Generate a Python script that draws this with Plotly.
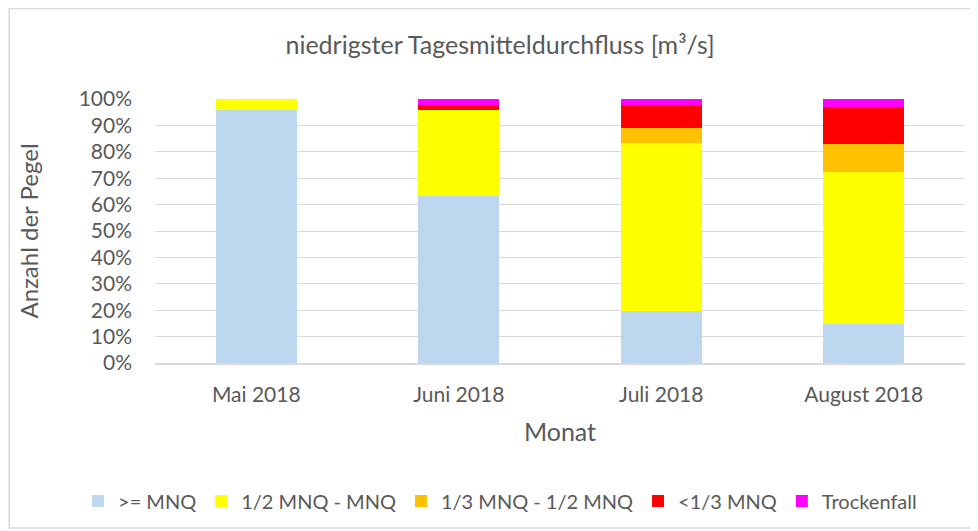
import plotly.graph_objects as go

# Monate und Anteile der Pegel je Klasse (in %)
monate = ["Mai 2018", "Juni 2018", "Juli 2018", "August 2018"]
ge_mnq = [96.0, 63.4, 19.8, 14.8]
halb_bis_mnq = [4.0, 32.4, 63.4, 57.4]
drittel_bis_halb = [0.0, 0.0, 5.8, 10.8]
unter_drittel = [0.0, 2.0, 8.8, 13.9]
trockenfall = [0.0, 2.2, 2.2, 3.1]

serien = [
    (">= MNQ", ge_mnq, "#BDD7EE"),
    ("1/2 MNQ - MNQ", halb_bis_mnq, "#FFFF00"),
    ("1/3 MNQ - 1/2 MNQ", drittel_bis_halb, "#FFC000"),
    ("<1/3 MNQ", unter_drittel, "#FF0000"),
    ("Trockenfall", trockenfall, "#FF00FF"),
]

FONT = "Lato, 'Noto Sans', sans-serif"
GREY = "#595959"

fig = go.Figure()
for name, werte, farbe in serien:
    fig.add_trace(go.Bar(
        x=monate, y=werte, name=name,
        marker=dict(color=farbe, line=dict(width=0)),
    ))

# page body has an 8px margin, so the figure is 8px smaller than the window
fig.update_layout(
    width=970, height=523,
    barmode="stack", bargap=0.6,
    plot_bgcolor="white", paper_bgcolor="white",
    margin=dict(l=147, r=13, t=91, b=168, autoexpand=False),
    font=dict(family=FONT, color=GREY, size=21),
    title=dict(
        text="niedrigster Tagesmitteldurchfluss [m³/s]",
        x=0.426, xref="paper", xanchor="center",
        y=1 - 37 / 523, yref="container", yanchor="middle",
        font=dict(size=25, color=GREY),
    ),
    # anchored left of the plot area so the legend may use the left margin too
    legend=dict(
        orientation="h", x=-0.095, xanchor="left",
        y=-0.523, yanchor="middle",
        font=dict(size=20, color=GREY),
        itemwidth=30, traceorder="normal",
    ),
    showlegend=True,
    shapes=[dict(
        type="rect", xref="paper", yref="paper",
        x0=-0.18, x1=1.0123, y0=-0.625, y1=1.343,
        line=dict(color="#D9D9D9", width=1.5),
    )],
)

fig.update_yaxes(
    range=[0, 100], dtick=10, ticksuffix="%",
    showgrid=True, gridcolor="#D9D9D9", gridwidth=1,
    zeroline=False, showline=False,
    ticks="", ticklabelstandoff=22,
    tickfont=dict(size=21, color=GREY),
    title=dict(text="Anzahl der Pegel", standoff=33,
               font=dict(size=24, color=GREY)),
)
fig.update_xaxes(
    showline=True, linecolor="#D9D9D9", linewidth=1.5,
    ticks="", ticklabelstandoff=12,
    tickfont=dict(size=21, color=GREY),
    title=dict(text="Monat", standoff=19,
               font=dict(size=25, color=GREY)),
)

fig.write_html("out.html")
